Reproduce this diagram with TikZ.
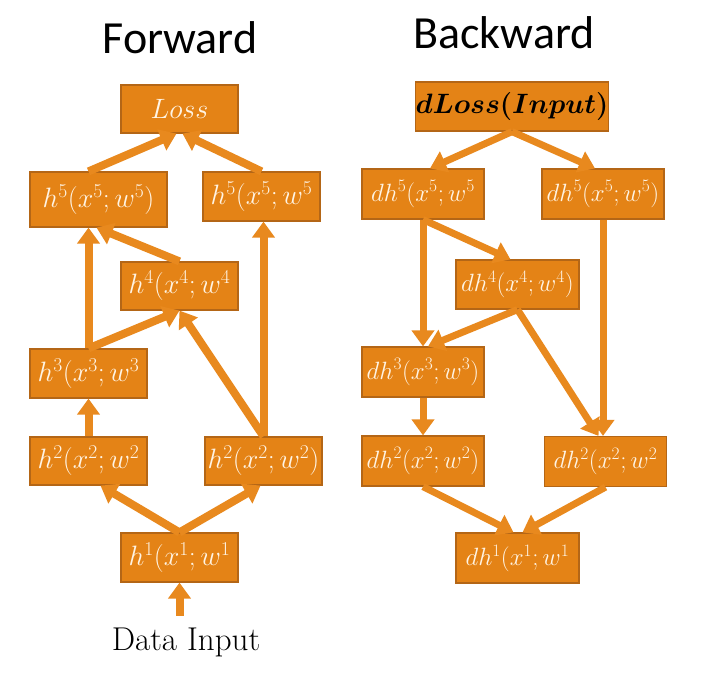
\documentclass[tikz,border=0pt]{standalone}
\usepackage{fix-cm}
\usepackage{bm}
\usepackage{fontspec}
\newfontfamily\titlefont{Carlito}
\usetikzlibrary{arrows.meta}

\definecolor{boxfill}{RGB}{228,131,22}
\definecolor{boxline}{RGB}{180,102,22}
\definecolor{arrowc}{RGB}{232,137,30}
\definecolor{boxtext}{RGB}{255,244,228}

\begin{document}
\begin{tikzpicture}[x=1pt,y=-1pt]
	\tikzset{blk/.style={draw=boxline,fill=boxfill,line width=1.2pt,inner sep=0pt,
			text=boxtext,minimum width=117pt,minimum height=48pt,font=\fontsize{28}{32}\selectfont},
		dblk/.style={blk,minimum width=122pt,minimum height=50pt,font=\fontsize{25}{29}\selectfont},
		topblk/.style={blk,minimum width=190pt,minimum height=49pt,text=black,font=\fontsize{28}{32}\selectfont},
		ttl/.style={anchor=base,font=\titlefont\fontsize{46}{52}\selectfont},
		>={Triangle[width=22pt,length=16pt]}}
	\useasboundingbox (0,0) rectangle (704,681);
	% titles
	\node[ttl] (fw) at (180,53) {Forward};
	\node[ttl] (bw) at (504,48) {Backward};
	% forward pass
	\node[blk] (loss) at (179.5,109) {$Loss$};
	\node[blk,minimum width=137pt,minimum height=55pt] (h5a) at (98.5,199.5) {$h^5(x^5;w^5)$};
	\node[blk,minimum height=49pt] (h5b) at (261.5,196.5) {$h^5(x^5;w^5$};
	\node[blk] (h4) at (179.5,286) {$h^4(x^4;w^4$};
	\node[blk,minimum height=49pt] (h3) at (88.5,373.5) {$h^3(x^3;w^3$};
	\node[blk] (h2a) at (88.5,461) {$h^2(x^2;w^2$};
	\node[blk] (h2b) at (263.5,461) {$h^2(x^2;w^2)$};
	\node[blk,minimum height=49pt] (h1) at (179.5,557.5) {$h^1(x^1;w^1$};
	\node[anchor=base,font=\fontsize{33}{37}\selectfont] (din) at (186,650) {Data Input};
	% backward pass
	\node[topblk] (dloss) at (512,106.5) {$\bm{dLoss(Input)}$};
	\node[dblk] (dh5a) at (423,194) {$dh^5(x^5;w^5$};
	\node[dblk] (dh5b) at (603,194) {$dh^5(x^5;w^5)$};
	\node[dblk,minimum width=123pt,minimum height=49pt] (dh4) at (517.5,284.5) {$dh^4(x^4;w^4)$};
	\node[dblk] (dh3) at (423,372) {$dh^3(x^3;w^3)$};
	\node[dblk] (dh2a) at (423,461) {$dh^2(x^2;w^2)$};
	\node[dblk] (dh2b) at (605.5,461.5) {$dh^2(x^2;w^2$};
	\node[dblk,minimum width=123pt] (dh1) at (517.5,558) {$dh^1(x^1;w^1$};
	\path[->,arrowc,line width=8pt]
		([xshift=-10pt]h5a.north) edge ([xshift=-3pt]loss.south)
		(h5b.north) edge ([xshift=3pt]loss.south)
		(h3.north) edge (h3.north |- h5a.south)
		(h3.north) edge (h4.south)
		(h4.north) edge ([xshift=-2pt]h5a.south)
		(h2b.north) edge (h4.south)
		(h2b.north) edge (h2b.north |- h5b.south)
		(h2a.north) edge (h3.south)
		(h1.north) edge ([xshift=12pt]h2a.south)
		(h1.north) edge ([xshift=-3pt]h2b.south)
		([yshift=8pt]h1.south |- din.north) edge (h1.south);
	\path[->,arrowc,line width=7pt]
		(dloss.south) edge ([xshift=7pt]dh5a.north)
		(dloss.south) edge ([xshift=-8pt]dh5b.north)
		(dh5a.south) edge (dh5a.south |- dh3.north)
		(dh5a.south) edge ([xshift=-7pt]dh4.north)
		(dh4.south) edge ([xshift=5pt]dh3.north)
		(dh4.south) edge ([xshift=-7pt]dh2b.north)
		(dh5b.south) edge (dh5b.south |- dh2b.north)
		(dh3.south) edge (dh2a.north)
		(dh2a.south) edge ([xshift=-4pt]dh1.north)
		(dh2b.south) edge ([xshift=5pt]dh1.north);
\end{tikzpicture}
\end{document}
